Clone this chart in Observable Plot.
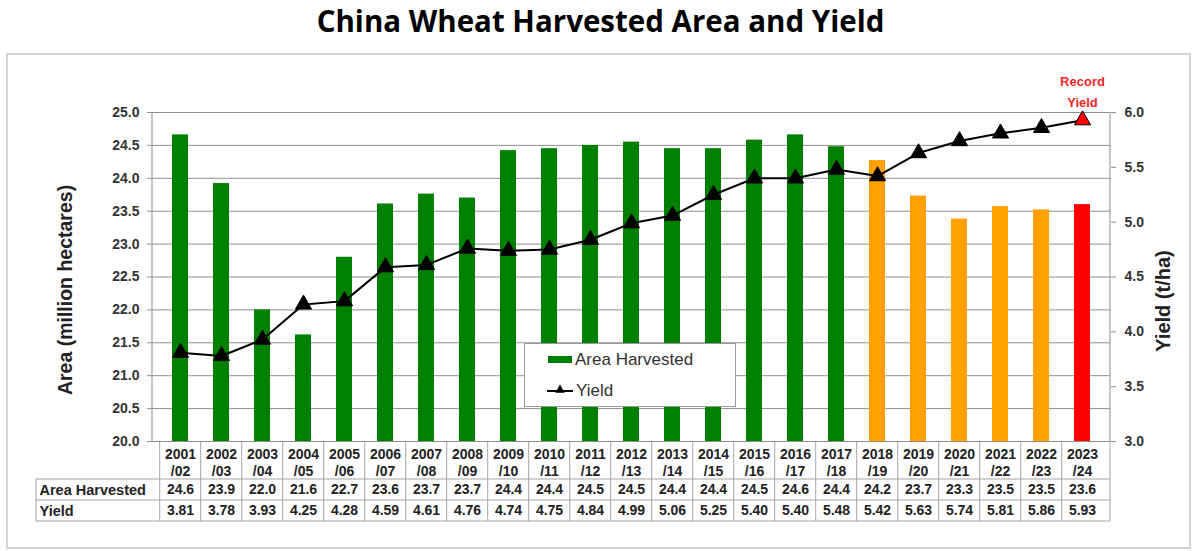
<!DOCTYPE html>
<html>
<head>
<meta charset="utf-8">
<script src="https://cdn.jsdelivr.net/npm/d3@7"></script>
<script src="https://cdn.jsdelivr.net/npm/@observablehq/plot@0.6"></script>
<style>
  html, body { margin: 0; padding: 0; background: #fff; }
  #title {
    height: 50px; box-sizing: border-box; padding-top: 2px;
    text-align: center; font-family: "Open Sans", Lato, sans-serif; font-weight: 700;
    font-size: 29.5px; line-height: 38px; color: #000; padding-left: 4px;
  }
  #chart svg { display: block; }
</style>
</head>
<body>
<div id="title">China Wheat Harvested Area and Yield</div>
<div id="chart"></div>
<script>
// ---- data ----
const seasons = ["2001/02","2002/03","2003/04","2004/05","2005/06","2006/07","2007/08","2008/09",
  "2009/10","2010/11","2011/12","2012/13","2013/14","2014/15","2015/16","2016/17","2017/18",
  "2018/19","2019/20","2020/21","2021/22","2022/23","2023/24"];
// bar heights as drawn (million hectares)
const areaHarvested = [24.66,23.92,22.0,21.62,22.8,23.61,23.76,23.70,24.42,24.45,24.50,24.55,
  24.45,24.45,24.58,24.66,24.48,24.27,23.73,23.38,23.57,23.52,23.60];
// table row labels
const areaLabels = ["24.6","23.9","22.0","21.6","22.7","23.6","23.7","23.7","24.4","24.4","24.5",
  "24.5","24.4","24.4","24.5","24.6","24.4","24.2","23.7","23.3","23.5","23.5","23.6"];
const yieldValues = [3.81,3.78,3.93,4.25,4.28,4.59,4.61,4.76,4.74,4.75,4.84,4.99,5.06,5.25,
  5.40,5.40,5.48,5.42,5.63,5.74,5.81,5.86,5.93];
const status = ["hist","hist","hist","hist","hist","hist","hist","hist","hist","hist","hist",
  "hist","hist","hist","hist","hist","hist","est","est","est","est","est","record"];
const areaTicks = [20,20.5,21,21.5,22,22.5,23,23.5,24,24.5,25];
const yieldTicks = [3,3.5,4,4.5,5,5.5,6];
const barFills = {hist: "#008000", est: "#FFA000", record: "#FF0000"};

const data = seasons.map((s, i) => ({
  season: s, area: areaHarvested[i], areaLabel: areaLabels[i],
  yield: yieldValues[i], status: status[i]
}));

// secondary axis mapping: yield [3,6] onto area [20,25]
const toY = v => 20 + (v - 3) * 5 / 3;
const fromY = a => 3 + (a - 20) * 3 / 5;

const FONT = "'Liberation Sans', Arial, sans-serif";
const W = 1197, H = 501;
const mL = 152, mR = 87, mT = 62, mB = 110;
const gridColor = "#8f8f8f";
const tableColor = "#a6a6a6";

// table grid + outer frame
function decorations(index, scales, values, dimensions) {
  const g = d3.create("svg:g");
  const x = scales.x;
  const step = x(seasons[1]) - x(seasons[0]);
  const left = dimensions.marginLeft;
  const right = dimensions.width - dimensions.marginRight;
  const bottom = dimensions.height - dimensions.marginBottom;
  g.append("rect").attr("x", 7).attr("y", 4).attr("width", 1183).attr("height", 494)
    .attr("fill", "none").attr("stroke", "#d4d4d4").attr("stroke-width", 2);
  const rowY = [bottom, bottom + 38, bottom + 59, bottom + 80];
  seasons.forEach((s) => {
    const xe = x(s) - step * 0.3;
    g.append("line").attr("x1", xe).attr("x2", xe).attr("y1", rowY[0]).attr("y2", rowY[3])
      .attr("stroke", tableColor);
  });
  g.append("line").attr("x1", right).attr("x2", right).attr("y1", rowY[0]).attr("y2", rowY[3])
    .attr("stroke", tableColor);
  const tableLeft = 36;
  g.append("line").attr("x1", tableLeft).attr("x2", tableLeft).attr("y1", rowY[1]).attr("y2", rowY[3])
    .attr("stroke", tableColor);
  [1, 2, 3].forEach(k => {
    g.append("line").attr("x1", tableLeft).attr("x2", right).attr("y1", rowY[k]).attr("y2", rowY[k])
      .attr("stroke", tableColor);
  });
  [left, right].forEach(xx => {
    g.append("line").attr("x1", xx).attr("x2", xx)
      .attr("y1", dimensions.marginTop).attr("y2", bottom).attr("stroke", gridColor);
  });
  return g.node();
}

function legend(index, scales, values, dimensions) {
  const g = d3.create("svg:g").attr("font-family", FONT).attr("text-anchor", "start");
  const lx = 524, ly = 293;
  g.append("rect").attr("x", lx + 0.5).attr("y", ly + 0.5).attr("width", 211).attr("height", 63)
    .attr("fill", "#fff").attr("stroke", "#9a9a9a");
  g.append("rect").attr("x", lx + 24).attr("y", ly + 13).attr("width", 24).attr("height", 7)
    .attr("fill", barFills.hist);
  g.append("text").attr("x", lx + 51).attr("y", ly + 22).attr("font-size", 17)
    .attr("text-anchor", "start").attr("fill", "#333").text("Area Harvested");
  g.append("line").attr("x1", lx + 23).attr("x2", lx + 49).attr("y1", ly + 48).attr("y2", ly + 48)
    .attr("stroke", "#000").attr("stroke-width", 2);
  g.append("path").attr("d", d3.symbol(d3.symbolTriangle, 40)())
    .attr("transform", `translate(${lx + 36},${ly + 47})`).attr("fill", "#000");
  g.append("text").attr("x", lx + 52).attr("y", ly + 53).attr("font-size", 17)
    .attr("text-anchor", "start").attr("fill", "#333").text("Yield");
  return g.node();
}

const chart = Plot.plot({
  width: W, height: H,
  marginLeft: mL, marginRight: mR, marginTop: mT, marginBottom: mB,
  style: {fontFamily: FONT, fontSize: "14px", background: "#fff", overflow: "visible"},
  x: {type: "band", domain: seasons, paddingInner: 0.6, paddingOuter: 0.3, axis: null},
  y: {domain: [20, 25], axis: null},
  color: {type: "identity"},
  marks: [
    decorations,
    Plot.ruleY(areaTicks, {stroke: gridColor, strokeWidth: 1}),
    Plot.barY(data, {x: "season", y1: 20, y2: "area", fill: d => barFills[d.status]}),
    Plot.line(data, {x: "season", y: d => toY(d.yield), stroke: "#000", strokeWidth: 2}),
    Plot.dot(data, {x: "season", y: d => toY(d.yield), symbol: "triangle", r: 6,
      fill: d => d.status === "record" ? "#FF0000" : "#000", stroke: "#000", strokeWidth: 1}),
    Plot.axisY({anchor: "left", ticks: areaTicks, tickFormat: d => d.toFixed(1), tickSize: 5,
      tickPadding: 8, stroke: gridColor, fill: "#333", fontWeight: "bold", fontSize: 14, label: null}),
    Plot.axisY({anchor: "right", ticks: yieldTicks.map(toY), tickFormat: d => fromY(d).toFixed(1),
      tickSize: 5, tickPadding: 9, stroke: gridColor, fill: "#333", fontWeight: "bold", fontSize: 14, label: null}),
    // axis titles
    Plot.text(["Area (million hectares)"], {frameAnchor: "left", text: d => d, rotate: -90,
      textAnchor: "middle", dx: -87, dy: 13, fontSize: 19.5, fontWeight: "bold", fill: "#222"}),
    Plot.text(["Yield (t/ha)"], {frameAnchor: "right", text: d => d, rotate: -90,
      textAnchor: "middle", dx: 53, dy: 24, fontSize: 20, fontWeight: "bold", fill: "#222"}),
    // record label
    Plot.text(data.filter(d => d.status === "record"), {x: "season", y: 25, text: () => "Record\nYield",
      lineAnchor: "bottom", lineHeight: 1.6, dy: -6, fontSize: 13, fontWeight: "bold", fill: "#F02828"}),
    // table: header
    Plot.text(data, {x: "season", text: d => d.season.replace("/", "\n/"), frameAnchor: "bottom",
      lineAnchor: "top", lineHeight: 1.18, dy: 6, fontSize: 14, fontWeight: "bold", fill: "#222"}),
    Plot.text(data, {x: "season", text: "areaLabel", frameAnchor: "bottom",
      lineAnchor: "top", dy: 43, fontSize: 14, fontWeight: "bold", fill: "#222"}),
    Plot.text(data, {x: "season", text: d => d.yield.toFixed(2), frameAnchor: "bottom",
      lineAnchor: "top", dy: 64, fontSize: 14, fontWeight: "bold", fill: "#222"}),
    Plot.text(["Area Harvested"], {frameAnchor: "bottom-left", text: d => d, textAnchor: "start",
      lineAnchor: "top", dx: -113, dy: 43, fontSize: 14.5, fontWeight: "bold", fill: "#222"}),
    Plot.text(["Yield"], {frameAnchor: "bottom-left", text: d => d, textAnchor: "start",
      lineAnchor: "top", dx: -113, dy: 64, fontSize: 14.5, fontWeight: "bold", fill: "#222"}),
    legend
  ]
});
document.getElementById("chart").appendChild(chart);
</script>
</body>
</html>
